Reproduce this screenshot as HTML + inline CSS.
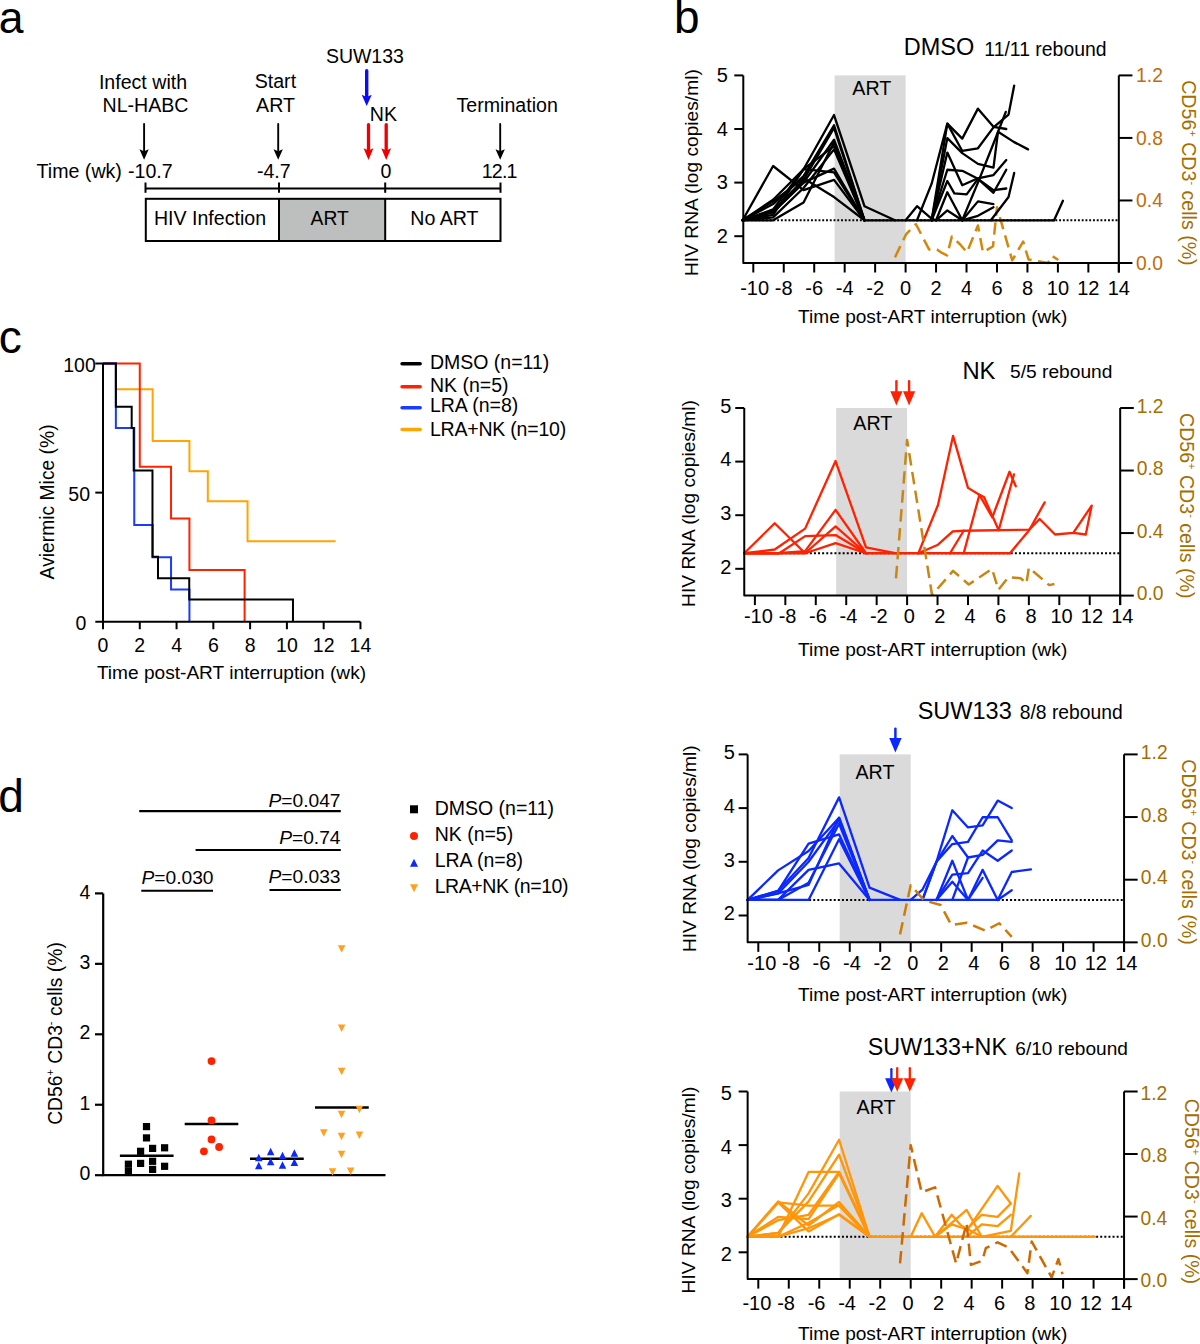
<!DOCTYPE html>
<html><head><meta charset="utf-8"><title>Figure</title>
<style>
html,body{margin:0;padding:0;background:#fff;overflow:hidden;}
svg{display:block;}
svg text{font-family:"Liberation Sans", sans-serif;}
</style></head>
<body>
<svg width="1200" height="1344" viewBox="0 0 1200 1344">
<rect width="1200" height="1344" fill="#fff"/>
<text x="-1.30" y="33.30" font-size="44.5" text-anchor="start" fill="#000" >a</text>
<text x="674.00" y="33.00" font-size="46" text-anchor="start" fill="#000" >b</text>
<text x="-1.30" y="352.50" font-size="46" text-anchor="start" fill="#000" >c</text>
<text x="-1.80" y="812.00" font-size="46" text-anchor="start" fill="#000" >d</text>
<text x="143.00" y="88.70" font-size="19.6" text-anchor="middle" fill="#000" >Infect with</text>
<text x="145.50" y="111.70" font-size="19.6" text-anchor="middle" fill="#000" >NL-HABC</text>
<text x="275.40" y="88.00" font-size="19.6" text-anchor="middle" fill="#000" >Start</text>
<text x="275.50" y="111.50" font-size="19.6" text-anchor="middle" fill="#000" >ART</text>
<text x="364.90" y="63.40" font-size="19.5" text-anchor="middle" fill="#000" >SUW133</text>
<text x="383.40" y="120.50" font-size="19.6" text-anchor="middle" fill="#000" >NK</text>
<text x="507.20" y="111.50" font-size="19.6" text-anchor="middle" fill="#000" >Termination</text>
<line x1="144.10" y1="123.95" x2="144.10" y2="151.70" stroke="#000" stroke-width="1.9" stroke-linecap="round"/>
<path d="M144.10,159.70 L139.45,149.20 L144.10,151.20 L148.75,149.20 Z" fill="#000"/>
<line x1="278.20" y1="123.95" x2="278.20" y2="151.70" stroke="#000" stroke-width="1.9" stroke-linecap="round"/>
<path d="M278.20,159.70 L273.55,149.20 L278.20,151.20 L282.85,149.20 Z" fill="#000"/>
<line x1="500.20" y1="123.95" x2="500.20" y2="151.70" stroke="#000" stroke-width="1.9" stroke-linecap="round"/>
<path d="M500.20,159.70 L495.55,149.20 L500.20,151.20 L504.85,149.20 Z" fill="#000"/>
<line x1="366.70" y1="70.70" x2="366.70" y2="97.50" stroke="#0a0aff" stroke-width="3.4" stroke-linecap="round"/>
<path d="M366.70,106.00 L361.70,94.80 L366.70,97.00 L371.70,94.80 Z" fill="#0a0aff"/>
<line x1="368.50" y1="124.65" x2="368.50" y2="151.00" stroke="#ee0000" stroke-width="3.3" stroke-linecap="round"/>
<path d="M368.50,160.00 L363.60,148.30 L368.50,150.50 L373.40,148.30 Z" fill="#ee0000"/>
<line x1="386.20" y1="124.65" x2="386.20" y2="151.00" stroke="#ee0000" stroke-width="3.3" stroke-linecap="round"/>
<path d="M386.20,160.00 L381.30,148.30 L386.20,150.50 L391.10,148.30 Z" fill="#ee0000"/>
<text x="36.61" y="177.80" font-size="19.6" text-anchor="start" fill="#000" >Time (wk)</text>
<text x="150.30" y="178.00" font-size="19.6" text-anchor="middle" fill="#000" >-10.7</text>
<text x="273.80" y="177.60" font-size="19.6" text-anchor="middle" fill="#000" >-4.7</text>
<text x="386.00" y="177.60" font-size="19.6" text-anchor="middle" fill="#000" >0</text>
<text x="499.60" y="177.60" font-size="19.6" text-anchor="middle" fill="#000" textLength="35.6" lengthAdjust="spacing">12.1</text>
<line x1="145.50" y1="188.60" x2="500.50" y2="188.60" stroke="#000" stroke-width="2" />
<line x1="145.50" y1="182.50" x2="145.50" y2="192.80" stroke="#000" stroke-width="2" />
<line x1="279.00" y1="182.50" x2="279.00" y2="192.80" stroke="#000" stroke-width="2" />
<line x1="385.20" y1="182.50" x2="385.20" y2="192.80" stroke="#000" stroke-width="2" />
<line x1="500.50" y1="182.50" x2="500.50" y2="192.80" stroke="#000" stroke-width="2" />
<rect x="279" y="198.8" width="106.2" height="42.2" fill="#bcbfbe"/>
<rect x="145.8" y="198.8" width="354.7" height="42.2" fill="none" stroke="#000" stroke-width="2"/>
<line x1="279.00" y1="198.80" x2="279.00" y2="241.00" stroke="#000" stroke-width="2" />
<line x1="385.20" y1="198.80" x2="385.20" y2="241.00" stroke="#000" stroke-width="2" />
<text x="210.00" y="225.30" font-size="19.6" text-anchor="middle" fill="#000" >HIV Infection</text>
<text x="329.70" y="224.60" font-size="19.3" text-anchor="middle" fill="#000" >ART</text>
<text x="444.40" y="224.60" font-size="19.6" text-anchor="middle" fill="#000" >No ART</text>
<rect x="834.62" y="75.40" width="70.98" height="187.60" fill="#dadada"/>
<text x="871.86" y="95.00" font-size="19.7" text-anchor="middle" fill="#000" >ART</text>
<line x1="743.30" y1="220.28" x2="1118.82" y2="220.28" stroke="#000" stroke-width="2" stroke-dasharray="1.9 1.86"/>
<polyline points="894.94,257.37 906.06,234.39 910.02,230.17 915.96,224.23 929.05,249.40 936.97,249.40 940.93,252.37 947.03,255.34 951.90,236.42 959.97,244.24 966.98,252.37 977.94,225.48 982.97,252.37 993.02,246.27 996.98,207.19 1012.21,260.34 1023.18,241.58 1028.51,259.40 1048.00,263.00 1052.11,255.97 1058.36,260.03" fill="none" stroke="#d4870a" stroke-width="2.5" stroke-dasharray="12.5 6.5" stroke-linecap="butt" stroke-linejoin="round"/>
<polyline points="742.64,220.28 773.10,165.98 803.56,190.10 834.02,179.92 864.48,220.28" fill="none" stroke="#000" stroke-width="2.3" stroke-linejoin="round" stroke-linecap="round"/>
<polyline points="742.64,220.28 773.10,201.36 803.56,178.31 834.02,197.07 864.48,220.28" fill="none" stroke="#000" stroke-width="2.3" stroke-linejoin="round" stroke-linecap="round"/>
<polyline points="742.64,220.28 773.10,209.40 803.56,169.20 834.02,172.42 864.48,220.28" fill="none" stroke="#000" stroke-width="2.3" stroke-linejoin="round" stroke-linecap="round"/>
<polyline points="742.64,220.28 773.10,212.08 803.56,182.60 834.02,168.66 864.48,220.28" fill="none" stroke="#000" stroke-width="2.3" stroke-linejoin="round" stroke-linecap="round"/>
<polyline points="742.64,220.28 773.10,199.75 803.56,169.20 834.02,115.06 864.48,206.18 894.94,220.28" fill="none" stroke="#000" stroke-width="2.3" stroke-linejoin="round" stroke-linecap="round"/>
<polyline points="742.64,220.28 773.10,204.04 803.56,176.17 834.02,125.25 864.48,220.28" fill="none" stroke="#000" stroke-width="2.3" stroke-linejoin="round" stroke-linecap="round"/>
<polyline points="742.64,220.28 773.10,210.47 803.56,179.92 834.02,127.93 864.48,220.28" fill="none" stroke="#000" stroke-width="2.3" stroke-linejoin="round" stroke-linecap="round"/>
<polyline points="742.64,220.28 773.10,212.08 803.56,182.60 834.02,139.72 864.48,220.28" fill="none" stroke="#000" stroke-width="2.3" stroke-linejoin="round" stroke-linecap="round"/>
<polyline points="742.64,220.28 773.10,214.76 803.56,169.20 834.02,146.15 864.48,220.28" fill="none" stroke="#000" stroke-width="2.3" stroke-linejoin="round" stroke-linecap="round"/>
<polyline points="742.64,220.28 773.10,220.28 803.56,202.43 834.02,142.40 864.48,220.28" fill="none" stroke="#000" stroke-width="2.3" stroke-linejoin="round" stroke-linecap="round"/>
<polyline points="742.64,220.28 773.10,217.44 803.56,187.96 834.02,149.37 864.48,220.28" fill="none" stroke="#000" stroke-width="2.3" stroke-linejoin="round" stroke-linecap="round"/>
<polyline points="864.48,220.28 1054.09,220.28" fill="none" stroke="#000" stroke-width="2.3" stroke-linejoin="round" stroke-linecap="round"/>
<polyline points="905.60,220.28 917.02,206.18 931.49,218.51 936.06,220.28" fill="none" stroke="#000" stroke-width="2.3" stroke-linejoin="round" stroke-linecap="round"/>
<polyline points="917.02,220.28 931.64,183.67 947.33,123.64 962.26,138.65 977.94,108.63 993.48,126.86 1006.27,129.00" fill="none" stroke="#000" stroke-width="2.3" stroke-linejoin="round" stroke-linecap="round"/>
<polyline points="931.64,220.28 947.33,123.64 962.26,150.98 977.94,148.30 993.48,127.39 1008.55,114.53 1014.19,85.58" fill="none" stroke="#000" stroke-width="2.3" stroke-linejoin="round" stroke-linecap="round"/>
<polyline points="931.64,220.28 947.33,138.11 962.26,153.12 977.94,163.84 993.48,167.59 998.05,131.68 1013.73,141.86 1028.05,149.37" fill="none" stroke="#000" stroke-width="2.3" stroke-linejoin="round" stroke-linecap="round"/>
<polyline points="931.64,220.28 947.33,152.58 962.26,185.28 977.94,178.31 993.48,175.10 1006.27,160.09" fill="none" stroke="#000" stroke-width="2.3" stroke-linejoin="round" stroke-linecap="round"/>
<polyline points="931.64,220.28 947.33,169.74 962.26,170.81 977.94,178.85 993.48,190.10 1006.27,188.50" fill="none" stroke="#000" stroke-width="2.3" stroke-linejoin="round" stroke-linecap="round"/>
<polyline points="931.64,220.28 947.33,180.99 954.34,193.32 966.67,194.39 977.94,178.85 993.48,192.78 1006.27,169.74" fill="none" stroke="#000" stroke-width="2.3" stroke-linejoin="round" stroke-linecap="round"/>
<polyline points="936.06,220.28 947.33,210.47 962.26,220.28 977.94,182.60 993.48,143.47 1005.81,111.85" fill="none" stroke="#000" stroke-width="2.3" stroke-linejoin="round" stroke-linecap="round"/>
<polyline points="936.06,220.28 947.33,192.25 962.26,220.28 977.94,201.36 993.48,204.04" fill="none" stroke="#000" stroke-width="2.3" stroke-linejoin="round" stroke-linecap="round"/>
<polyline points="962.26,220.28 977.94,215.83 993.48,207.26" fill="none" stroke="#000" stroke-width="2.3" stroke-linejoin="round" stroke-linecap="round"/>
<polyline points="990.89,220.28 1008.55,197.07 1014.19,172.95" fill="none" stroke="#000" stroke-width="2.3" stroke-linejoin="round" stroke-linecap="round"/>
<polyline points="1054.09,220.28 1062.93,200.82" fill="none" stroke="#000" stroke-width="2.3" stroke-linejoin="round" stroke-linecap="round"/>
<path d="M743.30,75.40 L743.30,263.00 L1118.82,263.00" fill="none" stroke="#000" stroke-width="2" stroke-linejoin="round"/>
<line x1="1118.82" y1="75.40" x2="1118.82" y2="272.50" stroke="#000" stroke-width="2" />
<line x1="734.30" y1="236.20" x2="743.30" y2="236.20" stroke="#000" stroke-width="2" />
<text x="727.90" y="243.05" font-size="20" text-anchor="end" fill="#000" >2</text>
<line x1="734.30" y1="182.60" x2="743.30" y2="182.60" stroke="#000" stroke-width="2" />
<text x="727.90" y="189.45" font-size="20" text-anchor="end" fill="#000" >3</text>
<line x1="734.30" y1="129.00" x2="743.30" y2="129.00" stroke="#000" stroke-width="2" />
<text x="727.90" y="135.85" font-size="20" text-anchor="end" fill="#000" >4</text>
<line x1="734.30" y1="75.40" x2="743.30" y2="75.40" stroke="#000" stroke-width="2" />
<text x="727.90" y="82.25" font-size="20" text-anchor="end" fill="#000" >5</text>
<line x1="1118.82" y1="263.00" x2="1132.42" y2="263.00" stroke="#000" stroke-width="2" />
<text x="1136.07" y="269.75" font-size="19.3" text-anchor="start" fill="#c46c08" >0.0</text>
<line x1="1118.82" y1="200.47" x2="1132.42" y2="200.47" stroke="#000" stroke-width="2" />
<text x="1136.07" y="207.22" font-size="19.3" text-anchor="start" fill="#c46c08" >0.4</text>
<line x1="1118.82" y1="137.93" x2="1132.42" y2="137.93" stroke="#000" stroke-width="2" />
<text x="1136.07" y="144.68" font-size="19.3" text-anchor="start" fill="#c46c08" >0.8</text>
<line x1="1118.82" y1="75.40" x2="1132.42" y2="75.40" stroke="#000" stroke-width="2" />
<text x="1136.07" y="82.15" font-size="19.3" text-anchor="start" fill="#c46c08" >1.2</text>
<line x1="753.30" y1="263.00" x2="753.30" y2="272.50" stroke="#000" stroke-width="2" />
<text x="754.60" y="294.80" font-size="20" text-anchor="middle" fill="#000" >-10</text>
<line x1="783.76" y1="263.00" x2="783.76" y2="272.50" stroke="#000" stroke-width="2" />
<text x="783.76" y="294.80" font-size="20" text-anchor="middle" fill="#000" >-8</text>
<line x1="814.22" y1="263.00" x2="814.22" y2="272.50" stroke="#000" stroke-width="2" />
<text x="814.22" y="294.80" font-size="20" text-anchor="middle" fill="#000" >-6</text>
<line x1="844.68" y1="263.00" x2="844.68" y2="272.50" stroke="#000" stroke-width="2" />
<text x="844.68" y="294.80" font-size="20" text-anchor="middle" fill="#000" >-4</text>
<line x1="875.14" y1="263.00" x2="875.14" y2="272.50" stroke="#000" stroke-width="2" />
<text x="875.14" y="294.80" font-size="20" text-anchor="middle" fill="#000" >-2</text>
<line x1="905.60" y1="263.00" x2="905.60" y2="272.50" stroke="#000" stroke-width="2" />
<text x="905.60" y="294.80" font-size="20" text-anchor="middle" fill="#000" >0</text>
<line x1="936.06" y1="263.00" x2="936.06" y2="272.50" stroke="#000" stroke-width="2" />
<text x="936.06" y="294.80" font-size="20" text-anchor="middle" fill="#000" >2</text>
<line x1="966.52" y1="263.00" x2="966.52" y2="272.50" stroke="#000" stroke-width="2" />
<text x="966.52" y="294.80" font-size="20" text-anchor="middle" fill="#000" >4</text>
<line x1="996.98" y1="263.00" x2="996.98" y2="272.50" stroke="#000" stroke-width="2" />
<text x="996.98" y="294.80" font-size="20" text-anchor="middle" fill="#000" >6</text>
<line x1="1027.44" y1="263.00" x2="1027.44" y2="272.50" stroke="#000" stroke-width="2" />
<text x="1027.44" y="294.80" font-size="20" text-anchor="middle" fill="#000" >8</text>
<line x1="1057.90" y1="263.00" x2="1057.90" y2="272.50" stroke="#000" stroke-width="2" />
<text x="1057.90" y="294.80" font-size="20" text-anchor="middle" fill="#000" >10</text>
<line x1="1088.36" y1="263.00" x2="1088.36" y2="272.50" stroke="#000" stroke-width="2" />
<text x="1088.36" y="294.80" font-size="20" text-anchor="middle" fill="#000" >12</text>
<line x1="1118.82" y1="263.00" x2="1118.82" y2="272.50" stroke="#000" stroke-width="2" />
<text x="1118.82" y="294.80" font-size="20" text-anchor="middle" fill="#000" >14</text>
<text x="932.70" y="322.80" font-size="19.1" text-anchor="middle" fill="#000" >Time post-ART interruption (wk)</text>
<text x="0" y="0" font-size="19.2" text-anchor="middle" transform="translate(697.70,172.60) rotate(-90)">HIV RNA (log copies/ml)</text>
<text x="0" y="0" font-size="19.6" text-anchor="middle" fill="#a66e00" transform="translate(1181.50,172.90) rotate(90)">CD56<tspan font-size="11" dy="-7.5">+</tspan><tspan dy="7.5"> CD3</tspan><tspan font-size="11" dy="-7.5">-</tspan><tspan dy="7.5"> cells (%)</tspan></text>
<rect x="836.17" y="408.00" width="70.93" height="187.60" fill="#dadada"/>
<text x="872.83" y="429.75" font-size="19.7" text-anchor="middle" fill="#000" >ART</text>
<line x1="744.25" y1="553.26" x2="1120.18" y2="553.26" stroke="#000" stroke-width="2" stroke-dasharray="2 2.1"/>
<polyline points="744.25,553.26 774.69,523.24 805.13,553.26 835.57,543.07 866.01,553.26" fill="none" stroke="#ff2200" stroke-width="2.3" stroke-linejoin="round" stroke-linecap="round"/>
<polyline points="744.25,553.26 774.69,549.50 805.13,528.60 835.57,461.06 866.01,547.36 896.45,553.26" fill="none" stroke="#ff2200" stroke-width="2.3" stroke-linejoin="round" stroke-linecap="round"/>
<polyline points="744.25,553.26 779.25,553.26 805.13,536.10 835.57,535.03 866.01,553.26" fill="none" stroke="#ff2200" stroke-width="2.3" stroke-linejoin="round" stroke-linecap="round"/>
<polyline points="744.25,553.26 777.73,553.26 805.13,551.11 835.57,509.84 866.01,553.26" fill="none" stroke="#ff2200" stroke-width="2.3" stroke-linejoin="round" stroke-linecap="round"/>
<polyline points="744.25,553.26 805.13,553.26 835.57,526.46 866.01,553.26" fill="none" stroke="#ff2200" stroke-width="2.3" stroke-linejoin="round" stroke-linecap="round"/>
<polyline points="866.01,553.26 1009.99,553.26" fill="none" stroke="#ff2200" stroke-width="2.3" stroke-linejoin="round" stroke-linecap="round"/>
<polyline points="918.36,553.26 938.00,505.02 953.06,435.87 967.98,487.86 979.39,494.83 992.33,517.34 1009.53,471.78 1015.77,486.26" fill="none" stroke="#ff2200" stroke-width="2.3" stroke-linejoin="round" stroke-linecap="round"/>
<polyline points="963.72,553.26 979.39,494.83 983.96,496.98 998.72,530.21 1013.94,474.46" fill="none" stroke="#ff2200" stroke-width="2.3" stroke-linejoin="round" stroke-linecap="round"/>
<polyline points="918.36,553.26 938.00,544.68 952.76,531.28 963.72,530.74 1029.16,529.67 1039.67,518.95 1055.04,534.50 1073.30,532.89 1085.78,534.50 1091.72,505.55 1073.30,532.89" fill="none" stroke="#ff2200" stroke-width="2.3" stroke-linejoin="round" stroke-linecap="round"/>
<polyline points="950.02,553.26 963.72,530.74" fill="none" stroke="#ff2200" stroke-width="2.3" stroke-linejoin="round" stroke-linecap="round"/>
<polyline points="1009.99,553.26 1029.16,530.21 1044.69,502.34" fill="none" stroke="#ff2200" stroke-width="2.3" stroke-linejoin="round" stroke-linecap="round"/>
<polyline points="895.99,578.40 907.10,440.05 932.06,594.97 953.06,570.90 968.74,584.50 992.03,568.87 998.42,589.82 1008.47,577.15 1020.64,578.25 1026.42,583.41 1028.86,567.62 1049.25,585.13 1054.43,584.03" fill="none" stroke="#c88714" stroke-width="2.5" stroke-dasharray="12.5 6.5" stroke-linecap="butt" stroke-linejoin="round"/>
<path d="M744.25,408.00 L744.25,595.60 L1120.18,595.60" fill="none" stroke="#000" stroke-width="2" stroke-linejoin="round"/>
<line x1="1120.18" y1="408.00" x2="1120.18" y2="605.10" stroke="#000" stroke-width="2" />
<line x1="735.25" y1="568.80" x2="744.25" y2="568.80" stroke="#000" stroke-width="2" />
<text x="731.35" y="573.65" font-size="20" text-anchor="end" fill="#000" >2</text>
<line x1="735.25" y1="515.20" x2="744.25" y2="515.20" stroke="#000" stroke-width="2" />
<text x="731.35" y="520.05" font-size="20" text-anchor="end" fill="#000" >3</text>
<line x1="735.25" y1="461.60" x2="744.25" y2="461.60" stroke="#000" stroke-width="2" />
<text x="731.35" y="466.45" font-size="20" text-anchor="end" fill="#000" >4</text>
<line x1="735.25" y1="408.00" x2="744.25" y2="408.00" stroke="#000" stroke-width="2" />
<text x="731.35" y="412.85" font-size="20" text-anchor="end" fill="#000" >5</text>
<line x1="1120.18" y1="595.60" x2="1133.78" y2="595.60" stroke="#000" stroke-width="2" />
<text x="1136.73" y="600.15" font-size="19.3" text-anchor="start" fill="#a66e00" >0.0</text>
<line x1="1120.18" y1="533.07" x2="1133.78" y2="533.07" stroke="#000" stroke-width="2" />
<text x="1136.73" y="537.62" font-size="19.3" text-anchor="start" fill="#a66e00" >0.4</text>
<line x1="1120.18" y1="470.53" x2="1133.78" y2="470.53" stroke="#000" stroke-width="2" />
<text x="1136.73" y="475.08" font-size="19.3" text-anchor="start" fill="#a66e00" >0.8</text>
<line x1="1120.18" y1="408.00" x2="1133.78" y2="408.00" stroke="#000" stroke-width="2" />
<text x="1136.73" y="412.55" font-size="19.3" text-anchor="start" fill="#a66e00" >1.2</text>
<line x1="754.90" y1="595.60" x2="754.90" y2="605.10" stroke="#000" stroke-width="2" />
<text x="758.40" y="622.90" font-size="20" text-anchor="middle" fill="#000" >-10</text>
<line x1="785.34" y1="595.60" x2="785.34" y2="605.10" stroke="#000" stroke-width="2" />
<text x="787.54" y="622.90" font-size="20" text-anchor="middle" fill="#000" >-8</text>
<line x1="815.78" y1="595.60" x2="815.78" y2="605.10" stroke="#000" stroke-width="2" />
<text x="817.98" y="622.90" font-size="20" text-anchor="middle" fill="#000" >-6</text>
<line x1="846.22" y1="595.60" x2="846.22" y2="605.10" stroke="#000" stroke-width="2" />
<text x="848.42" y="622.90" font-size="20" text-anchor="middle" fill="#000" >-4</text>
<line x1="876.66" y1="595.60" x2="876.66" y2="605.10" stroke="#000" stroke-width="2" />
<text x="878.86" y="622.90" font-size="20" text-anchor="middle" fill="#000" >-2</text>
<line x1="907.10" y1="595.60" x2="907.10" y2="605.10" stroke="#000" stroke-width="2" />
<text x="909.30" y="622.90" font-size="20" text-anchor="middle" fill="#000" >0</text>
<line x1="937.54" y1="595.60" x2="937.54" y2="605.10" stroke="#000" stroke-width="2" />
<text x="939.74" y="622.90" font-size="20" text-anchor="middle" fill="#000" >2</text>
<line x1="967.98" y1="595.60" x2="967.98" y2="605.10" stroke="#000" stroke-width="2" />
<text x="970.18" y="622.90" font-size="20" text-anchor="middle" fill="#000" >4</text>
<line x1="998.42" y1="595.60" x2="998.42" y2="605.10" stroke="#000" stroke-width="2" />
<text x="1000.62" y="622.90" font-size="20" text-anchor="middle" fill="#000" >6</text>
<line x1="1028.86" y1="595.60" x2="1028.86" y2="605.10" stroke="#000" stroke-width="2" />
<text x="1031.06" y="622.90" font-size="20" text-anchor="middle" fill="#000" >8</text>
<line x1="1059.30" y1="595.60" x2="1059.30" y2="605.10" stroke="#000" stroke-width="2" />
<text x="1061.50" y="622.90" font-size="20" text-anchor="middle" fill="#000" >10</text>
<line x1="1089.74" y1="595.60" x2="1089.74" y2="605.10" stroke="#000" stroke-width="2" />
<text x="1091.94" y="622.90" font-size="20" text-anchor="middle" fill="#000" >12</text>
<line x1="1120.18" y1="595.60" x2="1120.18" y2="605.10" stroke="#000" stroke-width="2" />
<text x="1122.38" y="622.90" font-size="20" text-anchor="middle" fill="#000" >14</text>
<text x="932.70" y="655.50" font-size="19.1" text-anchor="middle" fill="#000" >Time post-ART interruption (wk)</text>
<text x="0" y="0" font-size="19.2" text-anchor="middle" transform="translate(694.60,503.50) rotate(-90)">HIV RNA (log copies/ml)</text>
<text x="0" y="0" font-size="19.6" text-anchor="middle" fill="#a66e00" transform="translate(1180.30,505.70) rotate(90)">CD56<tspan font-size="11" dy="-7.5">+</tspan><tspan dy="7.5"> CD3</tspan><tspan font-size="11" dy="-7.5">-</tspan><tspan dy="7.5"> cells (%)</tspan></text>
<rect x="839.67" y="754.40" width="71.03" height="187.95" fill="#dadada"/>
<text x="874.94" y="778.90" font-size="19.7" text-anchor="middle" fill="#000" >ART</text>
<line x1="747.63" y1="899.93" x2="1124.06" y2="899.93" stroke="#000" stroke-width="2" stroke-dasharray="2 2.1"/>
<polyline points="747.63,899.93 778.11,870.39 808.59,851.06 839.07,817.77 869.55,899.93" fill="none" stroke="#0a28ff" stroke-width="2.3" stroke-linejoin="round" stroke-linecap="round"/>
<polyline points="747.63,899.93 778.11,890.80 808.59,858.04 839.07,797.36 869.55,887.58 900.03,899.93" fill="none" stroke="#0a28ff" stroke-width="2.3" stroke-linejoin="round" stroke-linecap="round"/>
<polyline points="747.63,899.93 778.11,899.93 808.59,869.86 839.07,863.41 869.55,899.93" fill="none" stroke="#0a28ff" stroke-width="2.3" stroke-linejoin="round" stroke-linecap="round"/>
<polyline points="747.63,899.93 778.11,893.48 808.59,884.89 839.07,817.77 869.55,899.93" fill="none" stroke="#0a28ff" stroke-width="2.3" stroke-linejoin="round" stroke-linecap="round"/>
<polyline points="747.63,899.93 778.11,890.80 808.59,843.54 839.07,834.41 869.55,899.93" fill="none" stroke="#0a28ff" stroke-width="2.3" stroke-linejoin="round" stroke-linecap="round"/>
<polyline points="747.63,899.93 778.11,899.93 808.59,882.74 839.07,823.67 869.55,899.93" fill="none" stroke="#0a28ff" stroke-width="2.3" stroke-linejoin="round" stroke-linecap="round"/>
<polyline points="747.63,899.93 778.11,893.48 808.59,861.80 839.07,819.91 869.55,899.93" fill="none" stroke="#0a28ff" stroke-width="2.3" stroke-linejoin="round" stroke-linecap="round"/>
<polyline points="747.63,899.93 778.11,899.93 808.59,899.93 839.07,839.25 869.55,899.93" fill="none" stroke="#0a28ff" stroke-width="2.3" stroke-linejoin="round" stroke-linecap="round"/>
<polyline points="869.55,899.93 997.72,899.93" fill="none" stroke="#0a28ff" stroke-width="2.3" stroke-linejoin="round" stroke-linecap="round"/>
<polyline points="910.70,899.93 922.43,889.72 936.46,861.80 952.31,810.25 968.00,827.43 982.63,825.28 997.72,800.58 1011.74,808.10" fill="none" stroke="#0a28ff" stroke-width="2.3" stroke-linejoin="round" stroke-linecap="round"/>
<polyline points="922.43,899.93 936.46,861.80 952.31,836.02 968.00,857.50 982.63,854.82 997.72,840.32 1011.74,841.93" fill="none" stroke="#0a28ff" stroke-width="2.3" stroke-linejoin="round" stroke-linecap="round"/>
<polyline points="922.43,899.93 936.46,861.80 952.31,844.08 968.00,841.93 982.63,817.23 997.72,817.23 1011.74,840.32" fill="none" stroke="#0a28ff" stroke-width="2.3" stroke-linejoin="round" stroke-linecap="round"/>
<polyline points="936.46,899.93 952.31,874.69 968.00,873.08 982.63,850.52 997.72,860.73 1011.74,850.52" fill="none" stroke="#0a28ff" stroke-width="2.3" stroke-linejoin="round" stroke-linecap="round"/>
<polyline points="936.46,899.93 952.31,860.73 968.00,899.93 982.63,869.86 997.72,899.93 1011.74,872.00 1030.94,869.32" fill="none" stroke="#0a28ff" stroke-width="2.3" stroke-linejoin="round" stroke-linecap="round"/>
<polyline points="936.46,899.93 952.31,881.67 968.00,899.93 982.63,877.91" fill="none" stroke="#0a28ff" stroke-width="2.3" stroke-linejoin="round" stroke-linecap="round"/>
<polyline points="952.31,899.93 968.00,857.50" fill="none" stroke="#0a28ff" stroke-width="2.3" stroke-linejoin="round" stroke-linecap="round"/>
<polyline points="997.72,899.93 1011.74,890.26" fill="none" stroke="#0a28ff" stroke-width="2.3" stroke-linejoin="round" stroke-linecap="round"/>
<polyline points="900.03,934.36 910.70,885.18 924.11,900.37 940.72,905.07 951.24,924.96 966.78,922.77 985.07,930.60 999.24,923.24 1011.74,936.87" fill="none" stroke="#cd7d0a" stroke-width="2.5" stroke-dasharray="12.5 6.5" stroke-linecap="butt" stroke-linejoin="round"/>
<path d="M747.63,754.40 L747.63,942.35 L1124.06,942.35" fill="none" stroke="#000" stroke-width="2" stroke-linejoin="round"/>
<line x1="1124.06" y1="754.40" x2="1124.06" y2="951.85" stroke="#000" stroke-width="2" />
<line x1="738.63" y1="915.50" x2="747.63" y2="915.50" stroke="#000" stroke-width="2" />
<text x="734.93" y="920.35" font-size="20" text-anchor="end" fill="#000" >2</text>
<line x1="738.63" y1="861.80" x2="747.63" y2="861.80" stroke="#000" stroke-width="2" />
<text x="734.93" y="866.65" font-size="20" text-anchor="end" fill="#000" >3</text>
<line x1="738.63" y1="808.10" x2="747.63" y2="808.10" stroke="#000" stroke-width="2" />
<text x="734.93" y="812.95" font-size="20" text-anchor="end" fill="#000" >4</text>
<line x1="738.63" y1="754.40" x2="747.63" y2="754.40" stroke="#000" stroke-width="2" />
<text x="734.93" y="759.25" font-size="20" text-anchor="end" fill="#000" >5</text>
<line x1="1124.06" y1="942.35" x2="1137.66" y2="942.35" stroke="#000" stroke-width="2" />
<text x="1140.86" y="947.10" font-size="19.3" text-anchor="start" fill="#a66e00" >0.0</text>
<line x1="1124.06" y1="879.70" x2="1137.66" y2="879.70" stroke="#000" stroke-width="2" />
<text x="1140.86" y="884.45" font-size="19.3" text-anchor="start" fill="#a66e00" >0.4</text>
<line x1="1124.06" y1="817.05" x2="1137.66" y2="817.05" stroke="#000" stroke-width="2" />
<text x="1140.86" y="821.80" font-size="19.3" text-anchor="start" fill="#a66e00" >0.8</text>
<line x1="1124.06" y1="754.40" x2="1137.66" y2="754.40" stroke="#000" stroke-width="2" />
<text x="1140.86" y="759.15" font-size="19.3" text-anchor="start" fill="#a66e00" >1.2</text>
<line x1="758.30" y1="942.35" x2="758.30" y2="951.85" stroke="#000" stroke-width="2" />
<text x="761.80" y="969.75" font-size="20" text-anchor="middle" fill="#000" >-10</text>
<line x1="788.78" y1="942.35" x2="788.78" y2="951.85" stroke="#000" stroke-width="2" />
<text x="790.98" y="969.75" font-size="20" text-anchor="middle" fill="#000" >-8</text>
<line x1="819.26" y1="942.35" x2="819.26" y2="951.85" stroke="#000" stroke-width="2" />
<text x="821.46" y="969.75" font-size="20" text-anchor="middle" fill="#000" >-6</text>
<line x1="849.74" y1="942.35" x2="849.74" y2="951.85" stroke="#000" stroke-width="2" />
<text x="851.94" y="969.75" font-size="20" text-anchor="middle" fill="#000" >-4</text>
<line x1="880.22" y1="942.35" x2="880.22" y2="951.85" stroke="#000" stroke-width="2" />
<text x="882.42" y="969.75" font-size="20" text-anchor="middle" fill="#000" >-2</text>
<line x1="910.70" y1="942.35" x2="910.70" y2="951.85" stroke="#000" stroke-width="2" />
<text x="912.90" y="969.75" font-size="20" text-anchor="middle" fill="#000" >0</text>
<line x1="941.18" y1="942.35" x2="941.18" y2="951.85" stroke="#000" stroke-width="2" />
<text x="943.38" y="969.75" font-size="20" text-anchor="middle" fill="#000" >2</text>
<line x1="971.66" y1="942.35" x2="971.66" y2="951.85" stroke="#000" stroke-width="2" />
<text x="973.86" y="969.75" font-size="20" text-anchor="middle" fill="#000" >4</text>
<line x1="1002.14" y1="942.35" x2="1002.14" y2="951.85" stroke="#000" stroke-width="2" />
<text x="1004.34" y="969.75" font-size="20" text-anchor="middle" fill="#000" >6</text>
<line x1="1032.62" y1="942.35" x2="1032.62" y2="951.85" stroke="#000" stroke-width="2" />
<text x="1034.82" y="969.75" font-size="20" text-anchor="middle" fill="#000" >8</text>
<line x1="1063.10" y1="942.35" x2="1063.10" y2="951.85" stroke="#000" stroke-width="2" />
<text x="1065.30" y="969.75" font-size="20" text-anchor="middle" fill="#000" >10</text>
<line x1="1093.58" y1="942.35" x2="1093.58" y2="951.85" stroke="#000" stroke-width="2" />
<text x="1095.78" y="969.75" font-size="20" text-anchor="middle" fill="#000" >12</text>
<line x1="1124.06" y1="942.35" x2="1124.06" y2="951.85" stroke="#000" stroke-width="2" />
<text x="1126.26" y="969.75" font-size="20" text-anchor="middle" fill="#000" >14</text>
<text x="932.70" y="1001.25" font-size="19.1" text-anchor="middle" fill="#000" >Time post-ART interruption (wk)</text>
<text x="0" y="0" font-size="19.2" text-anchor="middle" transform="translate(696.10,848.70) rotate(-90)">HIV RNA (log copies/ml)</text>
<text x="0" y="0" font-size="19.6" text-anchor="middle" fill="#a66e00" transform="translate(1182.00,852.00) rotate(90)">CD56<tspan font-size="11" dy="-7.5">+</tspan><tspan dy="7.5"> CD3</tspan><tspan font-size="11" dy="-7.5">-</tspan><tspan dy="7.5"> cells (%)</tspan></text>
<rect x="839.67" y="1091.50" width="71.03" height="187.60" fill="#dadada"/>
<text x="876.09" y="1113.75" font-size="19.7" text-anchor="middle" fill="#000" >ART</text>
<line x1="747.63" y1="1236.76" x2="1124.06" y2="1236.76" stroke="#000" stroke-width="2" stroke-dasharray="2 2.1"/>
<polyline points="747.63,1236.76 778.11,1202.45 808.59,1205.67 839.07,1205.67 869.55,1236.76" fill="none" stroke="#ff960a" stroke-width="2.3" stroke-linejoin="round" stroke-linecap="round"/>
<polyline points="747.63,1236.76 778.11,1202.45 808.59,1231.40 839.07,1214.24 869.55,1236.76" fill="none" stroke="#ff960a" stroke-width="2.3" stroke-linejoin="round" stroke-linecap="round"/>
<polyline points="747.63,1236.76 778.11,1201.38 808.59,1225.50 839.07,1201.92 869.55,1236.76" fill="none" stroke="#ff960a" stroke-width="2.3" stroke-linejoin="round" stroke-linecap="round"/>
<polyline points="747.63,1236.76 778.11,1236.76 808.59,1171.90 839.07,1171.90 869.55,1236.76" fill="none" stroke="#ff960a" stroke-width="2.3" stroke-linejoin="round" stroke-linecap="round"/>
<polyline points="747.63,1236.76 778.11,1216.92 808.59,1219.07 839.07,1173.51 869.55,1236.76" fill="none" stroke="#ff960a" stroke-width="2.3" stroke-linejoin="round" stroke-linecap="round"/>
<polyline points="747.63,1236.76 778.11,1233.00 808.59,1193.34 839.07,1139.74 869.55,1236.76" fill="none" stroke="#ff960a" stroke-width="2.3" stroke-linejoin="round" stroke-linecap="round"/>
<polyline points="747.63,1236.76 778.11,1233.00 808.59,1201.38 839.07,1154.75 869.55,1236.76" fill="none" stroke="#ff960a" stroke-width="2.3" stroke-linejoin="round" stroke-linecap="round"/>
<polyline points="747.63,1236.76 778.11,1220.14 808.59,1214.78 839.07,1171.90 869.55,1236.76" fill="none" stroke="#ff960a" stroke-width="2.3" stroke-linejoin="round" stroke-linecap="round"/>
<polyline points="747.63,1236.76 778.11,1236.76 808.59,1222.82 839.07,1205.13 869.55,1236.76" fill="none" stroke="#ff960a" stroke-width="2.3" stroke-linejoin="round" stroke-linecap="round"/>
<polyline points="747.63,1236.76 778.11,1236.76 808.59,1228.18 839.07,1214.78 869.55,1236.76" fill="none" stroke="#ff960a" stroke-width="2.3" stroke-linejoin="round" stroke-linecap="round"/>
<polyline points="869.55,1236.76 1095.10,1236.76" fill="none" stroke="#ff960a" stroke-width="2.3" stroke-linejoin="round" stroke-linecap="round"/>
<polyline points="910.70,1236.76 921.67,1213.17 935.08,1236.76" fill="none" stroke="#ff960a" stroke-width="2.3" stroke-linejoin="round" stroke-linecap="round"/>
<polyline points="935.08,1236.76 951.70,1214.78 960.99,1225.50 981.72,1236.76" fill="none" stroke="#ff960a" stroke-width="2.3" stroke-linejoin="round" stroke-linecap="round"/>
<polyline points="935.08,1236.76 951.70,1222.82 966.63,1209.96 981.72,1236.76" fill="none" stroke="#ff960a" stroke-width="2.3" stroke-linejoin="round" stroke-linecap="round"/>
<polyline points="935.08,1236.76 951.70,1224.43 966.63,1229.25 981.72,1214.78 997.57,1216.92 1010.83,1203.52" fill="none" stroke="#ff960a" stroke-width="2.3" stroke-linejoin="round" stroke-linecap="round"/>
<polyline points="966.63,1236.76 981.72,1224.43 997.57,1226.04 1010.83,1214.78" fill="none" stroke="#ff960a" stroke-width="2.3" stroke-linejoin="round" stroke-linecap="round"/>
<polyline points="966.63,1230.86 997.57,1185.84 1010.83,1203.52" fill="none" stroke="#ff960a" stroke-width="2.3" stroke-linejoin="round" stroke-linecap="round"/>
<polyline points="981.72,1236.76 1010.83,1230.86 1019.21,1173.51" fill="none" stroke="#ff960a" stroke-width="2.3" stroke-linejoin="round" stroke-linecap="round"/>
<polyline points="1010.83,1236.76 1030.79,1215.85" fill="none" stroke="#ff960a" stroke-width="2.3" stroke-linejoin="round" stroke-linecap="round"/>
<polyline points="900.03,1263.47 910.70,1145.12 921.67,1192.33 935.08,1187.33 956.12,1263.47 966.63,1223.13 970.90,1264.87 982.33,1260.65 985.83,1248.15 997.57,1242.36 1008.39,1247.36 1027.44,1273.16 1031.71,1241.58 1051.67,1277.38 1058.38,1259.09 1062.49,1274.10" fill="none" stroke="#cd6900" stroke-width="2.5" stroke-dasharray="12.5 6.5" stroke-linecap="butt" stroke-linejoin="round"/>
<path d="M747.63,1091.50 L747.63,1279.10 L1124.06,1279.10" fill="none" stroke="#000" stroke-width="2" stroke-linejoin="round"/>
<line x1="1124.06" y1="1091.50" x2="1124.06" y2="1288.60" stroke="#000" stroke-width="2" />
<line x1="738.63" y1="1252.30" x2="747.63" y2="1252.30" stroke="#000" stroke-width="2" />
<text x="731.83" y="1260.85" font-size="20" text-anchor="end" fill="#000" >2</text>
<line x1="738.63" y1="1198.70" x2="747.63" y2="1198.70" stroke="#000" stroke-width="2" />
<text x="731.83" y="1207.25" font-size="20" text-anchor="end" fill="#000" >3</text>
<line x1="738.63" y1="1145.10" x2="747.63" y2="1145.10" stroke="#000" stroke-width="2" />
<text x="731.83" y="1153.65" font-size="20" text-anchor="end" fill="#000" >4</text>
<line x1="738.63" y1="1091.50" x2="747.63" y2="1091.50" stroke="#000" stroke-width="2" />
<text x="731.83" y="1100.05" font-size="20" text-anchor="end" fill="#000" >5</text>
<line x1="1124.06" y1="1279.10" x2="1137.66" y2="1279.10" stroke="#000" stroke-width="2" />
<text x="1140.46" y="1287.25" font-size="19.3" text-anchor="start" fill="#a66e00" >0.0</text>
<line x1="1124.06" y1="1216.57" x2="1137.66" y2="1216.57" stroke="#000" stroke-width="2" />
<text x="1140.46" y="1224.72" font-size="19.3" text-anchor="start" fill="#a66e00" >0.4</text>
<line x1="1124.06" y1="1154.03" x2="1137.66" y2="1154.03" stroke="#000" stroke-width="2" />
<text x="1140.46" y="1162.18" font-size="19.3" text-anchor="start" fill="#a66e00" >0.8</text>
<line x1="1124.06" y1="1091.50" x2="1137.66" y2="1091.50" stroke="#000" stroke-width="2" />
<text x="1140.46" y="1099.65" font-size="19.3" text-anchor="start" fill="#a66e00" >1.2</text>
<line x1="758.30" y1="1279.10" x2="758.30" y2="1288.60" stroke="#000" stroke-width="2" />
<text x="756.90" y="1310.20" font-size="20" text-anchor="middle" fill="#000" >-10</text>
<line x1="788.78" y1="1279.10" x2="788.78" y2="1288.60" stroke="#000" stroke-width="2" />
<text x="786.08" y="1310.20" font-size="20" text-anchor="middle" fill="#000" >-8</text>
<line x1="819.26" y1="1279.10" x2="819.26" y2="1288.60" stroke="#000" stroke-width="2" />
<text x="816.56" y="1310.20" font-size="20" text-anchor="middle" fill="#000" >-6</text>
<line x1="849.74" y1="1279.10" x2="849.74" y2="1288.60" stroke="#000" stroke-width="2" />
<text x="847.04" y="1310.20" font-size="20" text-anchor="middle" fill="#000" >-4</text>
<line x1="880.22" y1="1279.10" x2="880.22" y2="1288.60" stroke="#000" stroke-width="2" />
<text x="877.52" y="1310.20" font-size="20" text-anchor="middle" fill="#000" >-2</text>
<line x1="910.70" y1="1279.10" x2="910.70" y2="1288.60" stroke="#000" stroke-width="2" />
<text x="908.00" y="1310.20" font-size="20" text-anchor="middle" fill="#000" >0</text>
<line x1="941.18" y1="1279.10" x2="941.18" y2="1288.60" stroke="#000" stroke-width="2" />
<text x="938.48" y="1310.20" font-size="20" text-anchor="middle" fill="#000" >2</text>
<line x1="971.66" y1="1279.10" x2="971.66" y2="1288.60" stroke="#000" stroke-width="2" />
<text x="968.96" y="1310.20" font-size="20" text-anchor="middle" fill="#000" >4</text>
<line x1="1002.14" y1="1279.10" x2="1002.14" y2="1288.60" stroke="#000" stroke-width="2" />
<text x="999.44" y="1310.20" font-size="20" text-anchor="middle" fill="#000" >6</text>
<line x1="1032.62" y1="1279.10" x2="1032.62" y2="1288.60" stroke="#000" stroke-width="2" />
<text x="1029.92" y="1310.20" font-size="20" text-anchor="middle" fill="#000" >8</text>
<line x1="1063.10" y1="1279.10" x2="1063.10" y2="1288.60" stroke="#000" stroke-width="2" />
<text x="1060.40" y="1310.20" font-size="20" text-anchor="middle" fill="#000" >10</text>
<line x1="1093.58" y1="1279.10" x2="1093.58" y2="1288.60" stroke="#000" stroke-width="2" />
<text x="1090.88" y="1310.20" font-size="20" text-anchor="middle" fill="#000" >12</text>
<line x1="1124.06" y1="1279.10" x2="1124.06" y2="1288.60" stroke="#000" stroke-width="2" />
<text x="1121.36" y="1310.20" font-size="20" text-anchor="middle" fill="#000" >14</text>
<text x="932.70" y="1339.50" font-size="19.1" text-anchor="middle" fill="#000" >Time post-ART interruption (wk)</text>
<text x="0" y="0" font-size="19.2" text-anchor="middle" transform="translate(694.90,1190.00) rotate(-90)">HIV RNA (log copies/ml)</text>
<text x="0" y="0" font-size="19.6" text-anchor="middle" fill="#a66e00" transform="translate(1184.50,1191.40) rotate(90)">CD56<tspan font-size="11" dy="-7.5">+</tspan><tspan dy="7.5"> CD3</tspan><tspan font-size="11" dy="-7.5">-</tspan><tspan dy="7.5"> cells (%)</tspan></text>
<text x="903.82" y="54.90" font-size="23.5" text-anchor="start" fill="#000" >DMSO</text>
<text x="984.34" y="55.90" font-size="19.4" text-anchor="start" fill="#000" >11/11 rebound</text>
<text x="962.40" y="378.80" font-size="23.8" text-anchor="start" fill="#000" >NK</text>
<text x="1010.03" y="378.20" font-size="19.2" text-anchor="start" fill="#000" >5/5 rebound</text>
<text x="917.69" y="718.80" font-size="23.5" text-anchor="start" fill="#000" >SUW133</text>
<text x="1019.73" y="718.60" font-size="19.3" text-anchor="start" fill="#000" >8/8 rebound</text>
<text x="867.80" y="1055.40" font-size="23.3" text-anchor="start" fill="#000" >SUW133+NK</text>
<text x="1015.34" y="1055.40" font-size="19.1" text-anchor="start" fill="#000" >6/10 rebound</text>
<line x1="896.40" y1="381.20" x2="896.40" y2="391.70" stroke="#ff2200" stroke-width="2.4" stroke-linecap="round"/>
<path d="M896.40,405.60 L890.30,391.20 L896.40,391.20 L902.50,391.20 Z" fill="#ff2200"/>
<line x1="909.10" y1="381.20" x2="909.10" y2="391.70" stroke="#ff2200" stroke-width="2.4" stroke-linecap="round"/>
<path d="M909.10,405.60 L903.00,391.20 L909.10,391.20 L915.20,391.20 Z" fill="#ff2200"/>
<line x1="895.40" y1="728.75" x2="895.40" y2="738.50" stroke="#0a28ff" stroke-width="2.5" stroke-linecap="round"/>
<path d="M895.40,752.40 L889.20,738.00 L895.40,738.00 L901.60,738.00 Z" fill="#0a28ff"/>
<line x1="891.40" y1="1069.15" x2="891.40" y2="1078.70" stroke="#0a28ff" stroke-width="2.3" stroke-linecap="round"/>
<path d="M891.40,1092.50 L885.10,1078.20 L891.40,1078.20 L897.70,1078.20 Z" fill="#0a28ff"/>
<line x1="897.20" y1="1068.15" x2="897.20" y2="1078.70" stroke="#ff2200" stroke-width="2.3" stroke-linecap="round"/>
<path d="M897.20,1091.70 L891.20,1078.20 L897.20,1078.20 L903.20,1078.20 Z" fill="#ff2200"/>
<line x1="909.80" y1="1068.15" x2="909.80" y2="1078.70" stroke="#ff2200" stroke-width="2.3" stroke-linecap="round"/>
<path d="M909.80,1091.70 L903.80,1078.20 L909.80,1078.20 L915.80,1078.20 Z" fill="#ff2200"/>
<polyline points="103.00,363.50 115.87,363.50 115.87,389.32 152.65,389.32 152.65,440.98 189.43,440.98 189.43,471.19 207.82,471.19 207.82,501.15 247.55,501.15 247.55,541.18 335.63,541.18" fill="none" stroke="#ffa500" stroke-width="2" stroke-linejoin="miter" stroke-miterlimit="10" />
<polyline points="103.00,363.50 139.78,363.50 139.78,466.80 171.04,466.80 171.04,518.45 189.43,518.45 189.43,570.10 244.60,570.10 244.60,621.75 244.60,621.75" fill="none" stroke="#ff2200" stroke-width="2" stroke-linejoin="miter" stroke-miterlimit="10" />
<polyline points="103.00,363.50 115.87,363.50 115.87,428.06 134.26,428.06 134.26,524.91 152.65,524.91 152.65,557.19 171.04,557.19 171.04,589.47 189.43,589.47 189.43,621.75 189.43,621.75" fill="none" stroke="#1a3cff" stroke-width="2" stroke-linejoin="miter" stroke-miterlimit="10" />
<polyline points="103.00,363.50 115.87,363.50 115.87,406.63 131.69,406.63 131.69,428.06 133.71,428.06 133.71,470.42 152.47,470.42 152.47,556.67 157.99,556.67 157.99,578.36 189.25,578.36 189.25,599.54 292.97,599.54 292.97,621.75 292.97,621.75" fill="none" stroke="#000" stroke-width="2" stroke-linejoin="miter" stroke-miterlimit="10" />
<path d="M103.0,363.5 L103.0,621.75 L360.46000000000004,621.75" fill="none" stroke="#000" stroke-width="2"/>
<line x1="95.30" y1="621.75" x2="103.00" y2="621.75" stroke="#000" stroke-width="2" />
<text x="86.30" y="629.95" font-size="19.5" text-anchor="end" fill="#000" >0</text>
<line x1="95.30" y1="492.62" x2="103.00" y2="492.62" stroke="#000" stroke-width="2" />
<text x="90.00" y="500.82" font-size="19.5" text-anchor="end" fill="#000" >50</text>
<line x1="95.30" y1="363.50" x2="103.00" y2="363.50" stroke="#000" stroke-width="2" />
<text x="95.80" y="371.70" font-size="19.5" text-anchor="end" fill="#000" >100</text>
<line x1="103.00" y1="621.75" x2="103.00" y2="629.25" stroke="#000" stroke-width="2" />
<text x="103.00" y="652.00" font-size="19.5" text-anchor="middle" fill="#000" >0</text>
<line x1="139.78" y1="621.75" x2="139.78" y2="629.25" stroke="#000" stroke-width="2" />
<text x="139.78" y="652.00" font-size="19.5" text-anchor="middle" fill="#000" >2</text>
<line x1="176.56" y1="621.75" x2="176.56" y2="629.25" stroke="#000" stroke-width="2" />
<text x="176.56" y="652.00" font-size="19.5" text-anchor="middle" fill="#000" >4</text>
<line x1="213.34" y1="621.75" x2="213.34" y2="629.25" stroke="#000" stroke-width="2" />
<text x="213.34" y="652.00" font-size="19.5" text-anchor="middle" fill="#000" >6</text>
<line x1="250.12" y1="621.75" x2="250.12" y2="629.25" stroke="#000" stroke-width="2" />
<text x="250.12" y="652.00" font-size="19.5" text-anchor="middle" fill="#000" >8</text>
<line x1="286.90" y1="621.75" x2="286.90" y2="629.25" stroke="#000" stroke-width="2" />
<text x="286.90" y="652.00" font-size="19.5" text-anchor="middle" fill="#000" >10</text>
<line x1="323.68" y1="621.75" x2="323.68" y2="629.25" stroke="#000" stroke-width="2" />
<text x="323.68" y="652.00" font-size="19.5" text-anchor="middle" fill="#000" >12</text>
<line x1="360.46" y1="621.75" x2="360.46" y2="629.25" stroke="#000" stroke-width="2" />
<text x="360.46" y="652.00" font-size="19.5" text-anchor="middle" fill="#000" >14</text>
<text x="231.50" y="678.75" font-size="19.1" text-anchor="middle" fill="#000" >Time post-ART interruption (wk)</text>
<text x="0" y="0" font-size="19.3" text-anchor="middle" transform="translate(53.6,501.9) rotate(-90)">Aviermic Mice (%)</text>
<line x1="402.10" y1="363.75" x2="420.10" y2="363.75" stroke="#000" stroke-width="3.6" stroke-linecap="round"/>
<text x="429.94" y="368.80" font-size="19.5" text-anchor="start" fill="#000" >DMSO (n=11)</text>
<line x1="402.10" y1="386.70" x2="420.10" y2="386.70" stroke="#ff2200" stroke-width="3.6" stroke-linecap="round"/>
<text x="429.94" y="391.50" font-size="19.5" text-anchor="start" fill="#000" >NK (n=5)</text>
<line x1="402.10" y1="407.80" x2="420.10" y2="407.80" stroke="#1a3cff" stroke-width="3.6" stroke-linecap="round"/>
<text x="429.94" y="412.00" font-size="19.5" text-anchor="start" fill="#000" >LRA (n=8)</text>
<line x1="402.10" y1="429.50" x2="420.10" y2="429.50" stroke="#ffa500" stroke-width="3.6" stroke-linecap="round"/>
<text x="429.94" y="435.80" font-size="19.5" text-anchor="start" fill="#000" textLength="136.3" lengthAdjust="spacing">LRA+NK (n=10)</text>
<line x1="139.20" y1="811.20" x2="340.80" y2="811.20" stroke="#000" stroke-width="2.2" />
<line x1="195.60" y1="850.00" x2="340.80" y2="850.00" stroke="#000" stroke-width="2.2" />
<line x1="141.25" y1="890.75" x2="213.00" y2="890.75" stroke="#000" stroke-width="2.2" />
<line x1="269.50" y1="890.00" x2="340.75" y2="890.00" stroke="#000" stroke-width="2.2" />
<text x="340.50" y="806.60" font-size="19.2" text-anchor="end"><tspan font-style="italic">P</tspan>=0.047</text>
<text x="340.50" y="843.80" font-size="19.2" text-anchor="end"><tspan font-style="italic">P</tspan>=0.74</text>
<text x="213.50" y="883.75" font-size="19.2" text-anchor="end"><tspan font-style="italic">P</tspan>=0.030</text>
<text x="340.50" y="883.30" font-size="19.2" text-anchor="end"><tspan font-style="italic">P</tspan>=0.033</text>
<path d="M103.2,893.4 L103.2,1175.2 L385.5,1175.2" fill="none" stroke="#000" stroke-width="2.2"/>
<line x1="95.00" y1="1175.20" x2="103.20" y2="1175.20" stroke="#000" stroke-width="2.2" />
<text x="90.30" y="1180.30" font-size="19.5" text-anchor="end" fill="#000" >0</text>
<line x1="95.00" y1="1104.75" x2="103.20" y2="1104.75" stroke="#000" stroke-width="2.2" />
<text x="90.30" y="1109.85" font-size="19.5" text-anchor="end" fill="#000" >1</text>
<line x1="95.00" y1="1034.30" x2="103.20" y2="1034.30" stroke="#000" stroke-width="2.2" />
<text x="90.30" y="1039.40" font-size="19.5" text-anchor="end" fill="#000" >2</text>
<line x1="95.00" y1="963.85" x2="103.20" y2="963.85" stroke="#000" stroke-width="2.2" />
<text x="90.30" y="968.95" font-size="19.5" text-anchor="end" fill="#000" >3</text>
<line x1="95.00" y1="893.40" x2="103.20" y2="893.40" stroke="#000" stroke-width="2.2" />
<text x="90.30" y="898.50" font-size="19.5" text-anchor="end" fill="#000" >4</text>
<text x="0" y="0" font-size="19.3" text-anchor="middle" transform="translate(61.5,1033.5) rotate(-90)">CD56<tspan font-size="11" dy="-7.5">+</tspan><tspan dy="7.5"> CD3</tspan><tspan font-size="11" dy="-7.5">-</tspan><tspan dy="7.5"> cells (%)</tspan></text>
<line x1="119.90" y1="1155.70" x2="173.60" y2="1155.70" stroke="#000" stroke-width="2.5" />
<line x1="184.70" y1="1123.90" x2="238.30" y2="1123.90" stroke="#000" stroke-width="2.5" />
<line x1="250.00" y1="1158.75" x2="303.75" y2="1158.75" stroke="#000" stroke-width="2.5" />
<line x1="315.00" y1="1107.50" x2="368.75" y2="1107.50" stroke="#000" stroke-width="2.5" />
<rect x="142.90" y="1123.00" width="7.2" height="7.2" fill="#000"/>
<rect x="142.90" y="1134.30" width="7.2" height="7.2" fill="#000"/>
<rect x="137.00" y="1147.70" width="7.2" height="7.2" fill="#000"/>
<rect x="149.00" y="1144.80" width="7.2" height="7.2" fill="#000"/>
<rect x="161.00" y="1144.20" width="7.2" height="7.2" fill="#000"/>
<rect x="137.00" y="1159.80" width="7.2" height="7.2" fill="#000"/>
<rect x="149.00" y="1157.70" width="7.2" height="7.2" fill="#000"/>
<rect x="149.00" y="1165.80" width="7.2" height="7.2" fill="#000"/>
<rect x="161.00" y="1162.70" width="7.2" height="7.2" fill="#000"/>
<rect x="124.80" y="1160.60" width="7.2" height="7.2" fill="#000"/>
<rect x="124.80" y="1167.60" width="7.2" height="7.2" fill="#000"/>
<circle cx="211.5" cy="1061.1" r="3.9" fill="#ff2200"/>
<circle cx="211.5" cy="1120.4" r="3.9" fill="#ff2200"/>
<circle cx="211.5" cy="1139.4" r="3.9" fill="#ff2200"/>
<circle cx="219.1" cy="1147" r="3.9" fill="#ff2200"/>
<circle cx="203.9" cy="1151.3" r="3.9" fill="#ff2200"/>
<path d="M258.75,1153.75 L262.50,1161.25 L255.00,1161.25 Z" fill="#0a28ff"/>
<path d="M258.75,1161.85 L262.50,1169.35 L255.00,1169.35 Z" fill="#0a28ff"/>
<path d="M270.60,1147.75 L274.35,1155.25 L266.85,1155.25 Z" fill="#0a28ff"/>
<path d="M270.60,1157.85 L274.35,1165.35 L266.85,1165.35 Z" fill="#0a28ff"/>
<path d="M282.50,1151.85 L286.25,1159.35 L278.75,1159.35 Z" fill="#0a28ff"/>
<path d="M282.50,1161.25 L286.25,1168.75 L278.75,1168.75 Z" fill="#0a28ff"/>
<path d="M294.40,1149.35 L298.15,1156.85 L290.65,1156.85 Z" fill="#0a28ff"/>
<path d="M294.40,1158.50 L298.15,1166.00 L290.65,1166.00 Z" fill="#0a28ff"/>
<path d="M337.85,945.25 L345.35,945.25 L341.60,952.75 Z" fill="#ffa01e"/>
<path d="M337.85,1024.45 L345.35,1024.45 L341.60,1031.95 Z" fill="#ffa01e"/>
<path d="M337.85,1067.85 L345.35,1067.85 L341.60,1075.35 Z" fill="#ffa01e"/>
<path d="M355.65,1105.65 L363.15,1105.65 L359.40,1113.15 Z" fill="#ffa01e"/>
<path d="M337.75,1110.65 L345.25,1110.65 L341.50,1118.15 Z" fill="#ffa01e"/>
<path d="M320.00,1129.35 L327.50,1129.35 L323.75,1136.85 Z" fill="#ffa01e"/>
<path d="M337.75,1132.75 L345.25,1132.75 L341.50,1140.25 Z" fill="#ffa01e"/>
<path d="M355.65,1131.50 L363.15,1131.50 L359.40,1139.00 Z" fill="#ffa01e"/>
<path d="M337.75,1150.65 L345.25,1150.65 L341.50,1158.15 Z" fill="#ffa01e"/>
<path d="M328.75,1168.15 L336.25,1168.15 L332.50,1175.65 Z" fill="#ffa01e"/>
<path d="M346.85,1167.50 L354.35,1167.50 L350.60,1175.00 Z" fill="#ffa01e"/>
<rect x="410" y="805.3" width="8" height="8" fill="#000"/>
<circle cx="414" cy="835.9" r="4" fill="#ff2200"/>
<path d="M414.00,858.80 L418.00,866.80 L410.00,866.80 Z" fill="#0a28ff"/>
<path d="M410.00,884.20 L418.00,884.20 L414.00,892.20 Z" fill="#ffa01e"/>
<text x="434.64" y="814.50" font-size="19.5" text-anchor="start" fill="#000" >DMSO (n=11)</text>
<text x="434.64" y="840.70" font-size="19.5" text-anchor="start" fill="#000" >NK (n=5)</text>
<text x="434.64" y="867.10" font-size="19.5" text-anchor="start" fill="#000" >LRA (n=8)</text>
<text x="434.64" y="892.90" font-size="19.5" text-anchor="start" fill="#000" textLength="133.9" lengthAdjust="spacing">LRA+NK (n=10)</text>
</svg>
</body></html>
